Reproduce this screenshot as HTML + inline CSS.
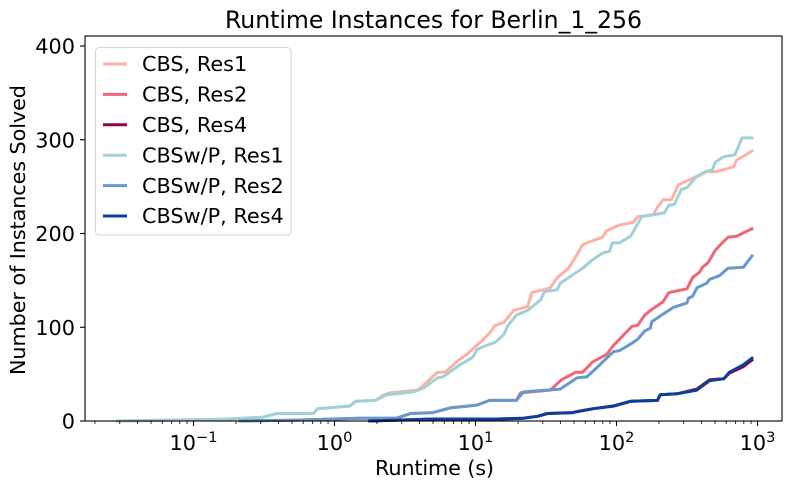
<!DOCTYPE html>
<html>
<head>
<meta charset="utf-8">
<style>
html,body{margin:0;padding:0;background:#fff;}
svg{display:block;font-family:"DejaVu Sans","Liberation Sans",sans-serif;fill:#000;}
</style>
</head>
<body>
<svg id="chart" width="792" height="490" viewBox="0 0 792 490" xmlns="http://www.w3.org/2000/svg">
  <text x="225" y="28" font-size="23.6" textLength="417" lengthAdjust="spacing">Runtime Instances for Berlin_1_256</text>
  <text x="375" y="475" font-size="20.8" textLength="119" lengthAdjust="spacing">Runtime (s)</text>
  <text transform="translate(25 375) rotate(-90)" font-size="20.8" textLength="290" lengthAdjust="spacing">Number of Instances Solved</text>
  <g id="series-layer"></g>
  <g id="tick-layer"></g>
  <rect x="85" y="36" width="697" height="385" fill="none" stroke="#000" stroke-width="1.1"/>
  <g id="legend">
    <rect x="95.5" y="47.5" width="195.5" height="187.5" rx="4" ry="4" fill="#fff" fill-opacity="0.8" stroke="#d6d6d6" stroke-width="1.1"/>
  </g>
</svg>
<script>
// Chart data: log10 of runtime (seconds) and number of instances solved
var xTickExponents = [-1, 0, 1, 2, 3];
var yTickValues = [0, 100, 200, 300, 400];
var seriesNames = ["CBS, Res1", "CBS, Res2", "CBS, Res4", "CBSw/P, Res1", "CBSw/P, Res2", "CBSw/P, Res4"];

var cbsRes1Log = [-1.54,-1.17,-0.76,-0.51,-0.41,-0.15,-0.12,0.11,0.15,0.29,0.34,0.39,0.59,0.63,0.73,0.78,0.80,0.88,0.94,1.01,1.05,1.10,1.14,1.20,1.27,1.37,1.40,1.53,1.58,1.66,1.71,1.76,1.79,1.90,1.93,2.02,2.12,2.15,2.26,2.29,2.33,2.39,2.44,2.54,2.59,2.64,2.71,2.83,2.85,2.96];
var cbsRes1Count = [0,1,2,4,8,8,13,16,21,22,27,30,33,38,52,52,54,65,71,81,86,94,102,105,118,122,137,142,153,163,175,188,190,196,203,209,212,218,220,228,236,236,252,259,262,266,266,271,278,288];

var cbsRes2Log = [-0.67,-0.27,0.18,0.44,0.54,0.70,0.82,1.01,1.10,1.29,1.32,1.53,1.61,1.71,1.76,1.83,1.93,1.98,2.02,2.11,2.15,2.20,2.25,2.33,2.37,2.50,2.54,2.59,2.61,2.65,2.70,2.73,2.79,2.85,2.96];
var cbsRes2Count = [0,1,3,3,8,9,14,17,22,22,30,33,44,52,52,63,71,81,87,101,102,113,119,127,137,141,153,159,164,169,182,187,196,197,205];

var cbsRes4Log = [0.25,0.68,1.14,1.34,1.44,1.51,1.69,1.72,1.83,1.98,2.10,2.29,2.31,2.43,2.57,2.66,2.76,2.80,2.90,2.96];
var cbsRes4Count = [0,2,2,3,5,8,9,10,13,16,21,22,28,29,34,44,45,51,58,65];

var pRes1Log = [-1.54,-1.17,-0.76,-0.51,-0.41,-0.15,-0.12,0.11,0.15,0.29,0.37,0.56,0.63,0.73,0.77,0.89,0.98,1.01,1.05,1.14,1.20,1.23,1.29,1.37,1.46,1.49,1.58,1.60,1.76,1.83,1.90,1.95,1.97,2.02,2.10,2.18,2.34,2.37,2.41,2.46,2.50,2.57,2.63,2.68,2.70,2.76,2.84,2.89,2.96];
var pRes1Count = [0,1,2,4,8,8,13,16,21,22,28,31,35,46,47,60,68,76,79,84,92,102,113,118,129,138,140,147,163,172,179,181,190,190,197,218,222,230,231,247,249,261,266,268,276,282,284,302,302];

var pRes2Log = [-0.67,-0.27,0.18,0.44,0.54,0.70,0.82,1.01,1.10,1.29,1.34,1.60,1.72,1.79,1.86,1.95,1.98,2.02,2.10,2.15,2.20,2.24,2.25,2.32,2.40,2.50,2.51,2.54,2.57,2.64,2.66,2.73,2.79,2.90,2.96];
var pRes2Count = [0,1,3,3,8,9,14,17,22,22,31,34,46,47,57,70,74,75,82,87,96,99,106,113,121,126,131,133,142,147,151,155,163,164,176];

var pRes4Log = [0.25,0.68,1.14,1.34,1.44,1.51,1.69,1.72,1.83,1.98,2.10,2.29,2.31,2.43,2.57,2.66,2.76,2.80,2.90,2.96];
var pRes4Count = [0,2,2,3,5,8,9,10,13,16,21,22,28,29,33,43,45,52,60,67];

var seriesLogs = [cbsRes1Log, cbsRes2Log, cbsRes4Log, pRes1Log, pRes2Log, pRes4Log];
var seriesCounts = [cbsRes1Count, cbsRes2Count, cbsRes4Count, pRes1Count, pRes2Count, pRes4Count];
var seriesColors = ["#ffb0a5", "#ee6677", "#990044", "#a0d1d8", "#6699cc", "#0a3f9c"];
var seriesKeys = ["cbs-res1", "cbs-res2", "cbs-res4", "cbsw-p-res1", "cbsw-p-res2", "cbsw-p-res4"];

var NS = "http://www.w3.org/2000/svg";
function xScale(logValue) { return 334.5 + 141 * logValue; }
function yScale(count) { return 421 - 0.9375 * count; }
function make(tag, attrs, parent) {
  var el = document.createElementNS(NS, tag);
  for (var k in attrs) el.setAttribute(k, attrs[k]);
  parent.appendChild(el);
  return el;
}

var seriesLayer = document.getElementById("series-layer");
seriesKeys.forEach(function (key, i) {
  var pts = seriesLogs[i].map(function (v, j) {
    return xScale(v).toFixed(1) + "," + yScale(seriesCounts[i][j]).toFixed(1);
  }).join(" ");
  var line = make("polyline", {points: pts, fill: "none", stroke: seriesColors[i], "stroke-width": 3, "stroke-linejoin": "round", "stroke-linecap": "square"}, seriesLayer);
  
  
});

var tickLayer = document.getElementById("tick-layer");
var xAxisMin = -1.77, xAxisMax = 3.17;
for (var d = -2; d <= 3; d++) {
  for (var m = 2; m <= 9; m++) {
    var lv = d + Math.log10(m);
    if (lv < xAxisMin || lv > xAxisMax) continue;
    var minor = make("line", {x1: xScale(lv), x2: xScale(lv), y1: 421, y2: 424, stroke: "#000", "stroke-width": 0.8}, tickLayer);
    
    
  }
}
xTickExponents.forEach(function (e) {
  var px = xScale(e);
  var tick = make("line", {x1: px, x2: px, y1: 421, y2: 426, stroke: "#000", "stroke-width": 1.1}, tickLayer);
  
  
  var label = make("text", {x: px, y: 450, "font-size": 20.8, "text-anchor": "middle"}, tickLayer);
  
  
  var base = make("tspan", {}, label);
  base.textContent = "10";
  var sup = make("tspan", {dy: -8, "font-size": 14.6}, label);
  sup.textContent = e < 0 ? "\u2212" + Math.abs(e) : String(e);
});
yTickValues.forEach(function (v) {
  var py = yScale(v);
  var tick = make("line", {x1: 80, x2: 85, y1: py, y2: py, stroke: "#000", "stroke-width": 1.1}, tickLayer);
  
  
  var label = make("text", {x: 75, y: py + 7.6, "font-size": 20.8, "text-anchor": "end"}, tickLayer);
  
  
  label.textContent = String(v);
});

var legend = document.getElementById("legend");
seriesNames.forEach(function (name, i) {
  var ly = 64 + i * 30.4;
  var handle = make("line", {x1: 103, x2: 127, y1: ly, y2: ly, stroke: seriesColors[i], "stroke-width": 3}, legend);
  
  
  var text = make("text", {x: 142, y: ly + 7.2, "font-size": 20.8}, legend);
  
  
  text.textContent = name;
});
</script>
</body>
</html>
